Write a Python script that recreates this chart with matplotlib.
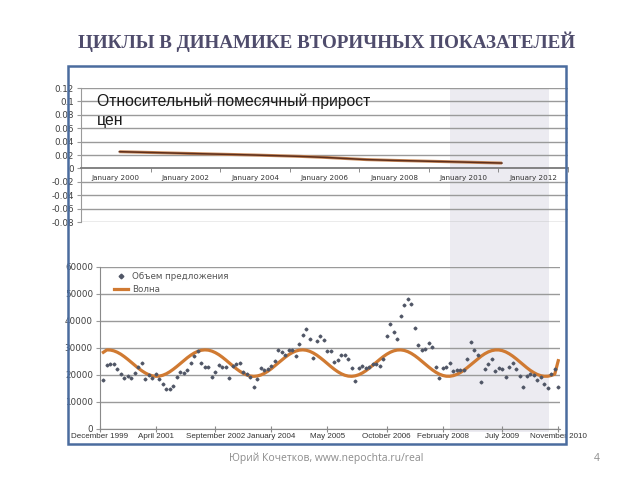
import matplotlib
matplotlib.use('Agg')
import matplotlib.pyplot as plt
from matplotlib.patches import Rectangle
import numpy as np

# --- top chart: monthly relative price growth (trend)
trend_years = [2000.1, 2002, 2004, 2005.3, 2006, 2007.2, 2008, 2010, 2011.1]
trend_vals = [0.025, 0.0225, 0.020, 0.018, 0.0165, 0.0132, 0.0120, 0.0095, 0.008]
top_yticks = [-0.08, -0.06, -0.04, -0.02, 0, 0.02, 0.04, 0.06, 0.08, 0.1, 0.12]
top_ylabels = ['-0.08', '-0.06', '-0.04', '-0.02', '0', '0.02', '0.04', '0.06', '0.08', '0.1', '0.12']
top_xticks = [2000, 2002, 2004, 2006, 2008, 2010, 2012]
top_xlabels = ['January %d' % y for y in top_xticks]
top_minor = [2001, 2003, 2005, 2007, 2009, 2011, 2013]

# --- bottom chart: offer volume (thousands), month 1 = Jan 2000
offer_k = [18.2, 23.6, 24.0, 23.9, 22.2, 20.2, 18.7, 19.6, 18.7, 20.6,
           23.0, 24.6, 18.4, 20.0, 18.8, 20.5, 18.5, 16.6, 14.9, 14.9,
           16.0, 19.3, 21.0, 20.6, 21.8, 24.5, 27.0, 28.8, 24.3, 23.1,
           23.1, 19.4, 21.2, 23.6, 22.8, 23.0, 19.0, 23.3, 24.0, 24.6,
           21.2, 20.5, 19.4, 15.6, 18.5, 22.6, 21.9, 22.2, 23.5, 25.0,
           29.1, 28.5, 27.5, 29.4, 29.1, 26.9, 31.6, 34.8, 36.9, 33.2,
           26.2, 32.5, 34.4, 33.1, 29.0, 28.9, 24.7, 25.4, 27.3, 27.3,
           26.0, 22.6, 17.6, 22.6, 23.5, 22.6, 23.1, 24.1, 24.0, 23.5,
           26.0, 34.4, 38.8, 35.8, 33.2, 42.0, 46.0, 48.2, 46.4, 37.5,
           31.0, 29.1, 29.5, 31.9, 30.4, 22.9, 18.8, 22.6, 22.9, 24.5,
           21.4, 21.9, 21.9, 22.0, 25.8, 32.1, 29.4, 27.5, 17.3, 22.3,
           23.9, 25.8, 21.4, 22.6, 22.3, 19.4, 23.1, 24.4, 22.3, 19.5,
           15.4, 19.5, 20.5, 20.0, 18.3, 19.1, 16.6, 15.0, 20.4, 22.3,
           15.6]
wave_k = [28.4, 29.29, 29.24, 28.94, 28.41, 27.69, 26.78, 25.77, 24.67, 23.57,
          22.51, 21.55, 20.73, 20.09, 19.68, 19.51, 19.58, 19.90, 20.45, 21.20,
          22.12, 23.14, 24.24, 25.34, 26.39, 27.34, 28.15, 28.76, 29.15, 29.30,
          29.20, 28.85, 28.28, 27.52, 26.59, 25.55, 24.45, 23.36, 22.31, 21.37,
          20.58, 19.99, 19.62, 19.50, 19.63, 19.99, 20.59, 21.37, 22.31, 23.36,
          24.46, 25.55, 26.59, 27.52, 28.29, 28.86, 29.20, 29.30, 29.15, 28.76,
          28.14, 27.34, 26.38, 25.34, 24.23, 23.14, 22.11, 21.20, 20.45, 19.90,
          19.58, 19.51, 19.68, 20.09, 20.73, 21.55, 22.52, 23.58, 24.68, 25.77,
          26.79, 27.69, 28.42, 28.94, 29.24, 29.29, 29.09, 28.65, 28.00, 27.16,
          26.18, 25.12, 24.01, 22.93, 21.91, 21.03, 20.32, 19.82, 19.54, 19.52,
          19.75, 20.21, 20.88, 21.73, 22.72, 23.79, 24.90, 25.98, 26.98, 27.85,
          28.54, 29.02, 29.27, 29.27, 29.02, 28.54, 27.84, 26.97, 25.97, 24.89,
          23.79, 22.71, 21.72, 20.88, 20.20, 19.74, 19.52, 19.54, 19.82, 20.32,
          25.3]
month_ticks = [0, 16, 33, 49, 65, 82, 98, 115, 131]
month_labels = ['December 1999', 'April 2001', 'September 2002', 'January 2004',
                'May 2005', 'October 2006', 'February 2008', 'July 2009', 'November 2010']

months = np.arange(1, len(offer_k) + 1)
offer = np.array(offer_k) * 1000
wave = np.array(wave_k) * 1000

fig = plt.figure(figsize=(6.4, 4.8), dpi=100)

# shaded period behind both charts
fig.patches.append(Rectangle((0.703, 0.100), 0.155, 0.715, transform=fig.transFigure,
                             facecolor='#ecebf1', edgecolor='none', zorder=-5))

grid_c = '#9a9a9a'
lab_c = '#404040'

# ---- top axes
ax1 = fig.add_axes([0.1266, 0.5375, 0.761, 0.279])
ax1.patch.set_alpha(0)
ax1.set_xlim(1999, 2013)
ax1.set_ylim(-0.08, 0.12)
for v in top_yticks:
    if v != 0:
        ax1.axhline(v, color=grid_c, lw=1, zorder=1)
ax1.plot(trend_years, trend_vals, color='#c98a5a', lw=2.2, zorder=3, solid_capstyle='butt')
ax1.plot(trend_years, trend_vals, color='#5e2f1c', lw=1.1, zorder=4)
ax1.set_yticks(top_yticks)
ax1.set_yticklabels(top_ylabels)
ax1.tick_params(axis='y', length=3, labelsize=6.3, labelcolor=lab_c, color=grid_c, pad=2)
ax1.spines['bottom'].set_position(('data', 0))
ax1.spines['bottom'].set_color('#7a7a7a')
ax1.spines['bottom'].set_linewidth(1.3)
ax1.spines['left'].set_color(grid_c)
ax1.spines['top'].set_visible(False)
ax1.spines['right'].set_visible(False)
ax1.set_xticks(top_minor, minor=True)
ax1.set_xticks(top_xticks)
ax1.set_xticklabels(top_xlabels)
ax1.tick_params(axis='x', which='major', length=0, labelsize=5.2, labelcolor='#333333', pad=5)
ax1.tick_params(axis='x', which='minor', length=3, color='#7a7a7a')
ax1.text(0.033, 0.96, 'Относительный помесячный прирост\nцен', transform=ax1.transAxes,
         fontsize=11.3, family='Liberation Sans', color='#1a1a1a', va='top',
         linespacing=1.35, zorder=5)

# ---- bottom axes
ax2 = fig.add_axes([0.156, 0.1063, 0.719, 0.3375])
ax2.patch.set_alpha(0)
ax2.set_xlim(0, 131.5)
ax2.set_ylim(0, 60000)
ax2.set_yticks(range(0, 60001, 10000))
ax2.yaxis.grid(True, color=grid_c, lw=1)
ax2.set_axisbelow(True)
ax2.plot(months, wave, color='#d07a32', lw=2.3, zorder=3, label='Волна')
ax2.plot(months, offer, linestyle='none', marker='D', ms=1.5, color='#505666',
         zorder=4, label='Объем предложения')
ax2.set_xticks(month_ticks)
ax2.set_xticklabels(month_labels, family='Liberation Sans')
ax2.tick_params(axis='x', direction='inout', length=5, color='#8a8a8a',
                labelsize=5.8, labelcolor='#333333', pad=0.5)
ax2.tick_params(axis='y', length=3, color=grid_c, labelsize=6.3, labelcolor=lab_c, pad=2)
for s in ['top', 'right']:
    ax2.spines[s].set_visible(False)
ax2.spines['left'].set_color('#8a8a8a')
ax2.spines['bottom'].set_color('#8a8a8a')
h, l = ax2.get_legend_handles_labels()
leg = ax2.legend(h[::-1], l[::-1], loc='upper left', bbox_to_anchor=(0.02, 1.0),
                 frameon=False, fontsize=6.3, handlelength=1.6, labelspacing=0.4,
                 borderaxespad=0.2, handletextpad=0.4, markerscale=1.6)
for t in leg.get_texts():
    t.set_color('#555555')

# slide frame
fig.patches.append(Rectangle((68 / 640, 1 - 444 / 480), 498 / 640, 378 / 480,
                             transform=fig.transFigure, fill=False,
                             edgecolor='#4a6c9e', lw=1.8, zorder=10))

fig.text(0.511, 0.912, 'ЦИКЛЫ В ДИНАМИКЕ ВТОРИЧНЫХ ПОКАЗАТЕЛЕЙ', ha='center', va='center',
         fontsize=13.8, fontweight='bold', family='Liberation Serif', color='#4f4c6c')
fig.text(0.509, 0.045, 'Юрий Кочетков, www.nepochta.ru/real', ha='center', va='center',
         fontsize=7.5, family='Open Sans', color='#8c8c8c')
fig.text(0.933, 0.045, '4', ha='center', va='center', fontsize=7.5,
         family='Open Sans', color='#8c8c8c')

fig.savefig('out.png', dpi=100)
